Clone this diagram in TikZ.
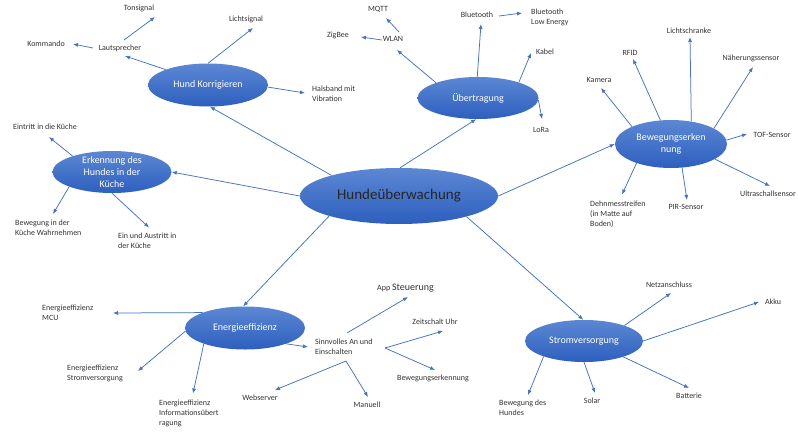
\documentclass[tikz,border=0pt]{standalone}
\usepackage{fontspec}
\setmainfont{Carlito}
\usetikzlibrary{calc,arrows.meta,shapes.geometric}
\definecolor{arr}{RGB}{68,114,196}
\definecolor{etop}{RGB}{92,135,211}
\definecolor{ebot}{RGB}{45,95,190}
\begin{document}
\begin{tikzpicture}[x=1pt,y=-1pt,
  bubble/.style={ellipse, inner sep=0pt, top color=etop, bottom color=ebot, draw=none,
    text=white, font=\fontsize{10}{12}\selectfont, align=center},
  lbl/.style={inner sep=0pt, text=black!80, font=\fontsize{8}{10}\selectfont, align=left},
  con/.style={draw=arr, line width=0.75pt, -{Latex[length=5pt,width=4pt]}}]
\useasboundingbox[fill=white] (0,0) rectangle (798,434);

% main bubbles
\node[bubble, minimum width=198, minimum height=56, text=black!85,
      font=\fontsize{15}{18}\selectfont] (root) at (399,196) {Hundeüberwachung};
\node[bubble, minimum width=120, minimum height=43] (hk) at (208,85) {Hund Korrigieren};
\node[bubble, minimum width=121, minimum height=42] (ub) at (478,98) {Übertragung};
\node[bubble, minimum width=112, minimum height=48] (bew) at (671,144) {Bewegungserken\\nung};
\node[bubble, minimum width=119, minimum height=42, inner sep=-4pt] (erk) at (112,172) {Erkennung des\\Hundes in der\\Küche};
\node[bubble, minimum width=120, minimum height=43] (en) at (245,328) {Energieeffizienz};
\node[bubble, minimum width=118, minimum height=42] (sv) at (584,341) {Stromversorgung};

% labels
\node[lbl] (laut) at (120,48) {Lautsprecher};
\node[lbl] (komm) at (46,44) {Kommando};
\node[lbl] (ton) at (139,8) {Tonsignal};
\node[lbl] (licht) at (246,19) {Lichtsignal};
\node[lbl, anchor=west] (hals) at (312,94) {Halsband mit\\Vibration};

\node[lbl] (wlan) at (393,39) {WLAN};
\node[lbl] (zig) at (338,35) {ZigBee};
\node[lbl] (mqtt) at (378,9) {MQTT};
\node[lbl] (bt) at (477,15) {Bluetooth};
\node[lbl, anchor=west] (ble) at (531,17) {Bluetooth\\Low Energy};
\node[lbl] (kabel) at (545,52) {Kabel};
\node[lbl] (lora) at (541,130) {LoRa};

\node[lbl] (lschr) at (689,31) {Lichtschranke};
\node[lbl] (rfid) at (630,53) {RFID};
\node[lbl] (kam) at (599,80) {Kamera};
\node[lbl] (naeh) at (751,58) {Näherungssensor};
\node[lbl] (tof) at (772,135) {TOF-Sensor};
\node[lbl] (ultra) at (768,194) {Ultraschallsensor};
\node[lbl] (pir) at (686,207) {PIR-Sensor};
\node[lbl, anchor=west] (dehn) at (590,214.5) {Dehnmesstreifen\\(in Matte auf\\Boden)};

\node[lbl] (eint) at (45,127) {Eintritt in die Küche};
\node[lbl, anchor=west] (bewk) at (15,228) {Bewegung in der\\Küche Wahrnehmen};
\node[lbl, anchor=west] (einaus) at (118,240.5) {Ein und Austritt in\\der Küche};

\node[lbl, anchor=west] (mcu) at (42,313) {Energieeffizienz\\MCU};
\node[lbl, anchor=west] (esv) at (67,373) {Energieeffizienz\\Stromversorgung};
\node[lbl, anchor=west] (einf) at (159,413.5) {Energieeffizienz\\Informationsübert\\ragung};
\node[lbl, anchor=west] (sinn) at (315,347) {Sinnvolles An und\\Einschalten};
\node[lbl, anchor=west] (app) at (377,288) {App {\fontsize{10}{12}\selectfont Steuerung}};
\node[lbl] (zeit) at (435,322) {Zeitschalt Uhr};
\node[lbl] (bewe) at (433,378) {Bewegungserkennung};
\node[lbl] (web) at (260,398) {Webserver};
\node[lbl] (man) at (367,405) {Manuell};

\node[lbl] (netz) at (669,285) {Netzanschluss};
\node[lbl] (akku) at (773,302) {Akku};
\node[lbl] (batt) at (689,396) {Batterie};
\node[lbl] (solar) at (592,401) {Solar};
\node[lbl, anchor=west] (bewh) at (499,408) {Bewegung des\\Hundes};

% root connectors
\draw[con] (root.163.5) -- (hk.275);
\draw[con] (root.88) -- (ub.265);
\draw[con] (root.0) -- (bew.180);
\draw[con] (root.180) -- (erk.0);
\draw[con] (root.196.5) -- (en.95);
\draw[con] (root.343.5) -- (sv.92);

% Hund Korrigieren
\draw[con] (hk.160.8) -- ($(laut)+(5,8)$);
\draw[con] (hk.90) -- ($(licht)+(7,9)$);
\draw[con] (hk.358) -- ($(hals.west)+(-7,-1)$);
\draw[con] ($(laut)+(-27,0)$) -- ($(komm)+(27,0)$);
\draw[con] ($(laut)+(4,-8)$) -- ($(ton)+(16,9)$);

% Uebertragung
\draw[con] (ub.160.8) -- ($(wlan)+(4,11)$);
\draw[con] ($(wlan)+(-11,1)$) -- ($(zig)+(23,2)$);
\draw[con] ($(wlan)+(6,-7)$) -- ($(mqtt)+(8,9)$);
\draw[con] (ub.92) -- ($(bt)+(4,9)$);
\draw[con] ($(bt)+(22,1)$) -- ($(ble.west)+(-9,-4)$);
\draw[con] (ub.21.3) -- ($(kabel)+(-14,1)$);
\draw[con] (ub.358) -- ($(lora)+(1,-11)$);

% Bewegungserkennung
\draw[con] (bew.48) -- ($(lschr)+(1,6)$);
\draw[con] (bew.114.6) -- ($(rfid)+(3,6)$);
\draw[con] (bew.156.4) -- ($(kam)+(2,8)$);
\draw[con] (bew.20.7) -- ($(naeh)+(2,9)$);
\draw[con] (bew.4) -- ($(tof)+(-25,-1)$);
\draw[con] (bew.341) -- ($(ultra)+(2,-8)$);
\draw[con] (bew.295.6) -- ($(pir)+(1,-7)$);
\draw[con] (bew.209) -- ($(dehn.west)+(32,-20)$);

% Erkennung
\draw[con] (erk.158.4) -- ($(eint)+(4,10)$);
\draw[con] (erk.199.7) -- ($(bewk.west)+(38,-14)$);
\draw[con] (erk.270) -- ($(einaus.west)+(31,-13)$);

% Energieeffizienz
\draw[con] (en.160.8) -- ($(mcu.west)+(71,0)$);
\draw[con] (en.183) -- ($(esv.west)+(71,-2)$);
\draw[con] (en.201) -- ($(einf.west)+(34,-20)$);
\draw[con] (en.339.6) -- ($(sinn.west)+(-7,0)$);
\draw[con] ($(sinn.west)+(32,-14)$) -- ($(app.west)+(31,9)$);
\draw[con] ($(sinn.west)+(70,1)$) -- ($(zeit)+(8,9)$);
\draw[con] ($(sinn.west)+(70,1)$) -- ($(bewe)+(2,-8)$);
\draw[con] ($(sinn.west)+(31,14)$) -- ($(web)+(15,-8)$);
\draw[con] ($(sinn.west)+(31,14)$) -- ($(man)+(1,-8)$);

% Stromversorgung
\draw[con] (sv.21.3) -- ($(netz)+(2,8)$);
\draw[con] (sv.0) -- ($(akku)+(-14,0)$);
\draw[con] (sv.338.7) -- ($(batt)+(0,-8)$);
\draw[con] (sv.270) -- ($(solar)+(3,-8)$);
\draw[con] (sv.201) -- ($(bewh.west)+(29,-13)$);
\end{tikzpicture}
\end{document}
